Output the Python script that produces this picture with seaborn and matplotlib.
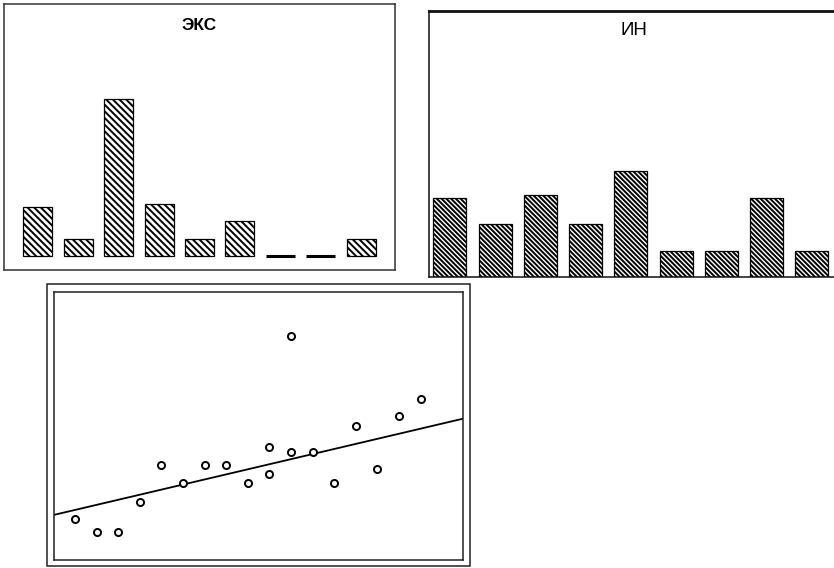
import numpy as np
import pandas as pd
import matplotlib
matplotlib.use("Agg")
import matplotlib.pyplot as plt
import seaborn as sns
from matplotlib.patches import Rectangle

# ---- data ----
bins = ["1", "2", "3", "4", "5", "6", "7", "8", "9"]
eks_values = [2.8, 1, 9, 3, 1, 2, 0, 0, 1]
in_values = [3, 2, 3.1, 2, 4, 1, 1, 3, 1]
title_eks = "ЭКС"
title_in = "ИН"

scatter_x = [1, 2, 3, 4, 5, 6, 7, 8, 9, 10, 10, 11, 11, 12, 13, 14, 15, 16, 17]
scatter_y = [4.6, 3.1, 3.1, 6.4, 10.6, 8.6, 10.6, 10.6, 8.6, 12.6, 9.6, 24.9,
             12.0, 12.0, 8.6, 14.9, 10.1, 16.0, 17.9]
trend_intercept = 5.0
trend_slope = 0.565

# ---- style ----
sns.set_theme(style="white")
plt.rcParams["font.family"] = ["Liberation Sans", "DejaVu Sans"]
plt.rcParams["hatch.linewidth"] = 1.4

W, H = 834, 568
fig = plt.figure(figsize=(W / 100, H / 100), dpi=100)


def fax(l, t, r, b):
    return fig.add_axes([l / W, (H - b) / H, (r - l) / W, (b - t) / H])


def style_frame(ax, lw=1.0, color="#222222"):
    for s in ax.spines.values():
        s.set_visible(True)
        s.set_linewidth(lw)
        s.set_color(color)
    ax.set_xticks([])
    ax.set_yticks([])
    ax.set_xlabel("")
    ax.set_ylabel("")


# ---- panel 1: ЭКС ----
ax1 = fax(4, 4, 395, 270)
df1 = pd.DataFrame({"bin": bins, "value": eks_values})
sns.barplot(data=df1, x="bin", y="value", ax=ax1, color="white",
            edgecolor="black", linewidth=0.9, width=0.72,
            hatch="\\" * 5, saturation=1)
for p in ax1.patches:
    p.set_facecolor("white")
    p.set_edgecolor("black")
    if p.get_height() == 0:
        p.set_linewidth(2.2)
ax1.set_xlim(-0.84, 8.84)
ax1.set_ylim(-0.8, 14.45)
style_frame(ax1, lw=1.1, color="#333333")
ax1.text(0.5, 0.921, title_eks, transform=ax1.transAxes, ha="center",
         va="center", fontsize=12.5, fontweight="bold", color="black")

# ---- panel 2: ИН ----
ax2 = fax(429, 11, 839, 277)
df2 = pd.DataFrame({"bin": bins, "value": in_values})
sns.barplot(data=df2, x="bin", y="value", ax=ax2, color="white",
            edgecolor="black", linewidth=0.9, width=0.73,
            hatch="\\" * 7, saturation=1)
for p in ax2.patches:
    p.set_facecolor("white")
    p.set_edgecolor("black")
ax2.set_xlim(-0.464, 8.6)
ax2.set_ylim(0, 10.08)
style_frame(ax2, lw=1.1, color="#111111")
ax2.spines["top"].set_linewidth(2.0)
ax2.text(0.5, 0.925, title_in, transform=ax2.transAxes, ha="center",
         va="center", fontsize=13.5, color="black")

# ---- panel 3: scatter with trend ----
ax3 = fax(54, 292, 463, 560)
df3 = pd.DataFrame({"x": scatter_x, "y": scatter_y})
xlim3 = (0.03, 18.96)
line_x = np.array([xlim3[0] - 1, xlim3[1] + 1])
sns.lineplot(x=line_x, y=trend_intercept + trend_slope * line_x, ax=ax3,
             color="black", linewidth=1.3)
sns.scatterplot(data=df3, x="x", y="y", ax=ax3, color="white",
                edgecolor="black", linewidth=1.4, s=26, zorder=3)
ax3.set_xlim(*xlim3)
ax3.set_ylim(0, 29.8)
style_frame(ax3, lw=1.1, color="#222222")

# outer double frame of panel 3
fig.patches.append(Rectangle((47 / W, 2 / H), 423 / W, 282 / H,
                             transform=fig.transFigure, fill=False,
                             edgecolor="#222222", linewidth=1.1))

fig.savefig("out.png", dpi=100)
